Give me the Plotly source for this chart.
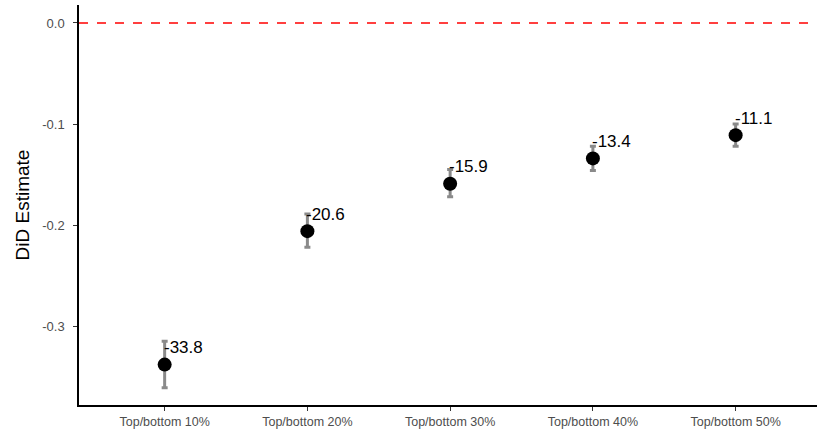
import plotly.graph_objects as go

categories = ["Top/bottom 10%", "Top/bottom 20%", "Top/bottom 30%", "Top/bottom 40%", "Top/bottom 50%"]
estimates = [-0.338, -0.206, -0.159, -0.134, -0.111]
ci_upper = [-0.315, -0.189, -0.145, -0.122, -0.100]
ci_lower = [-0.361, -0.222, -0.172, -0.146, -0.122]
labels = ["-33.8", "-20.6", "-15.9", "-13.4", "-11.1"]

xs = list(range(len(categories)))
err_plus = [u - e for u, e in zip(ci_upper, estimates)]
err_minus = [e - l for e, l in zip(estimates, ci_lower)]

fig = go.Figure()
fig.add_trace(go.Scatter(
    x=xs, y=estimates, mode="markers",
    marker=dict(color="black", size=14),
    error_y=dict(type="data", symmetric=False, array=err_plus, arrayminus=err_minus,
                 color="#8a8a8a", thickness=3, width=3),
    showlegend=False,
))

for x, y, t in zip(xs, estimates, labels):
    fig.add_annotation(x=x, y=y, text=t, showarrow=False, xanchor="left", yanchor="middle",
                       xshift=-3, yshift=17, font=dict(size=17, color="black", family="Liberation Sans"))

fig.add_shape(type="line", xref="paper", x0=0, x1=1, yref="y", y0=0, y1=0,
              line=dict(color="red", width=1.5, dash="dash"))

fig.update_layout(
    width=817, height=434,
    margin=dict(l=79, r=0, t=5, b=29),
    plot_bgcolor="white", paper_bgcolor="white",
    font=dict(family="Liberation Sans"),
)
fig.update_xaxes(
    range=[-0.6, 4.57], tickmode="array", tickvals=xs, ticktext=categories,
    showgrid=False, zeroline=False, showline=True, linecolor="black", linewidth=1.5,
    ticks="outside", ticklen=4, tickcolor="#333333", tickfont=dict(size=12.5, color="#4d4d4d"),
)
fig.update_yaxes(
    range=[-0.378, 0.0178], tickmode="array", tickvals=[0.0, -0.1, -0.2, -0.3],
    ticktext=["0.0", "-0.1", "-0.2", "-0.3"],
    showgrid=False, zeroline=False, showline=True, linecolor="black", linewidth=1.5,
    ticks="outside", ticklen=4, tickcolor="#333333", tickfont=dict(size=13, color="#4d4d4d"),
    ticklabelstandoff=6,
    title=dict(text="DiD Estimate", font=dict(size=19, color="black"), standoff=8),
)

fig.write_html("out.html", config={"displayModeBar": False},
               post_script="document.body.style.margin='0px';document.body.style.overflow='hidden';")
